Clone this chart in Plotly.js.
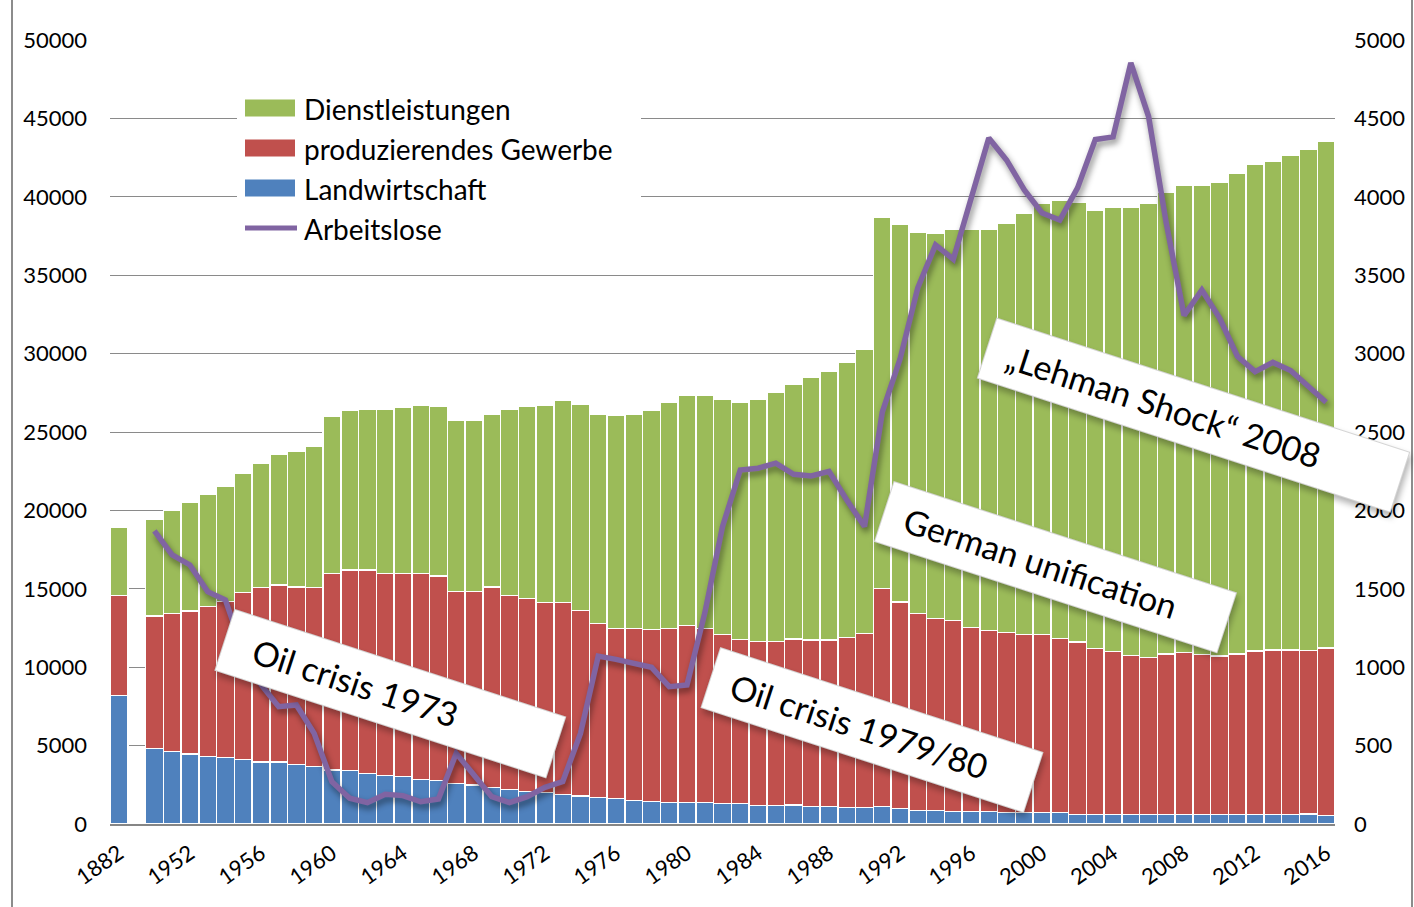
<!DOCTYPE html>
<html>
<head>
<meta charset="utf-8">
<script src="https://cdn.plot.ly/plotly-3.0.1.min.js"></script>
<style>
  html, body { margin:0; padding:0; background:#fff; }
  #chart { width:1414px; height:907px; }
  .scatterlayer .js-line { filter: drop-shadow(2px 4px 3px rgba(0,0,0,0.45)); }
  g.annotation rect.bg { filter: drop-shadow(3px 4px 3px rgba(0,0,0,0.30)); }
</style>
</head>
<body>
<div id="chart"></div>
<script>
// ---- Data (thousands of persons) ----
const categories = ['1882',' ',
  '1950','1951','1952','1953','1954','1955','1956','1957','1958','1959',
  '1960','1961','1962','1963','1964','1965','1966','1967','1968','1969',
  '1970','1971','1972','1973','1974','1975','1976','1977','1978','1979',
  '1980','1981','1982','1983','1984','1985','1986','1987','1988','1989',
  '1990','1991','1992','1993','1994','1995','1996','1997','1998','1999',
  '2000','2001','2002','2003','2004','2005','2006','2007','2008','2009',
  '2010','2011','2012','2013','2014','2015','2016'];

const tickLabels = ['1882','1952','1956','1960','1964','1968','1972','1976','1980',
  '1984','1988','1992','1996','2000','2004','2008','2012','2016'];

const landwirtschaft = [8180, null,
  4800,4610,4480,4310,4250,4120,3970,3970,3810,3680,
  3460,3400,3230,3080,3020,2830,2760,2590,2490,2340,
  2210,2060,2000,1890,1790,1700,1620,1490,1430,1360,
  1360,1360,1300,1300,1170,1170,1200,1110,1110,1040,
  1040,1110,980,850,850,790,790,790,720,720,
  720,720,600,600,600,600,600,600,600,600,
  600,600,600,600,600,640,530];

const produzierendesGewerbe = [6380, null,
  8450,8810,9120,9570,9930,10630,11100,11280,11320,11390,
  12510,12810,12980,12890,12950,13140,13070,12250,12350,12760,
  12370,12330,12130,12240,11840,11080,10860,10990,10980,11120,
  11310,11120,10800,10460,10460,10460,10600,10620,10620,10850,
  11110,13910,13190,12590,12270,12190,11750,11540,11500,11370,
  11370,11120,11000,10600,10400,10160,10030,10240,10350,10200,
  10110,10250,10430,10510,10510,10430,10680];

const dienstleistungen = [4340, null,
  6200,6610,6890,7120,7390,7640,7960,8350,8660,9040,
  10050,10190,10260,10500,10630,10750,10830,10930,10930,11050,
  11890,12270,12590,12910,13160,13370,13610,13670,14000,14440,
  14690,14880,15010,15160,15480,15920,16270,16740,17140,17550,
  18150,23690,24090,24330,24570,24920,25360,25570,26120,26870,
  27510,27960,28060,27970,28330,28570,28960,29470,29810,29960,
  30250,30630,31030,31150,31570,31940,32350];

const arbeitslose = [null, null,
  1869,1716,1652,1482,1429,1100,890,748,759,578,
  270,164,136,189,181,142,159,451,312,174,
  136,174,234,270,578,1071,1050,1025,999,876,
  887,1344,1896,2258,2269,2301,2230,2220,2249,2066,
  1897,2626,2965,3420,3693,3602,3980,4375,4235,4044,
  3897,3852,4057,4366,4382,4854,4512,3829,3243,3406,
  3227,2983,2885,2944,2892,2787,2690];

const seriesNames = ['Dienstleistungen','produzierendes Gewerbe','Landwirtschaft','Arbeitslose'];
const colors = {green:'#9BBB59', red:'#C0504D', blue:'#4F81BD', purple:'#8064A2'};

const barLine = {color:'#ffffff', width:1.5};
const traces = [
  {type:'bar', name:seriesNames[2], x:categories, y:landwirtschaft,
   marker:{color:colors.blue, line:barLine}, hoverinfo:'x+y+name'},
  {type:'bar', name:seriesNames[1], x:categories, y:produzierendesGewerbe,
   marker:{color:colors.red, line:barLine}, hoverinfo:'x+y+name'},
  {type:'bar', name:seriesNames[0], x:categories, y:dienstleistungen,
   marker:{color:colors.green, line:barLine}, hoverinfo:'x+y+name'},
  {type:'scatter', mode:'lines', name:seriesNames[3], x:categories, y:arbeitslose,
   yaxis:'y2', connectgaps:false,
   line:{color:colors.purple, width:5.5, shape:'linear'}}
];

// ---- pixel helpers for layout placement (plot area 110..1335 x 40..824) ----
const PL=110, PR=1335, PT=40, PB=824;
const px = v => (v-PL)/(PR-PL);
const py = v => (PB-v)/(PB-PT);

const FONT = 'Lato, "Open Sans", sans-serif';

// manual legend
const legendItems = [
  {name:seriesNames[0], color:colors.green, y:108, kind:'rect'},
  {name:seriesNames[1], color:colors.red, y:148, kind:'rect'},
  {name:seriesNames[2], color:colors.blue, y:188, kind:'rect'},
  {name:seriesNames[3], color:colors.purple, y:228, kind:'line'}
];

const shapes = [
  // chart frame (left / right)
  {type:'line', xref:'paper', yref:'paper', x0:px(12), x1:px(12), y0:py(-5), y1:py(912),
   line:{color:'#8c8c8c', width:2}},
  {type:'line', xref:'paper', yref:'paper', x0:px(1412), x1:px(1412), y0:py(-5), y1:py(912),
   line:{color:'#8c8c8c', width:2}},
  // legend background
  {type:'rect', xref:'paper', yref:'paper', layer:'above',
   x0:px(237), x1:px(641), y0:py(88), y1:py(246), fillcolor:'#ffffff', line:{width:0}}
];
const annotations = [];
legendItems.forEach(it => {
  if (it.kind === 'rect') {
    shapes.push({type:'rect', xref:'paper', yref:'paper', layer:'above',
      x0:px(245), x1:px(295), y0:py(it.y-8.5), y1:py(it.y+8.5),
      fillcolor:it.color, line:{width:0}});
  } else {
    shapes.push({type:'line', xref:'paper', yref:'paper', layer:'above',
      x0:px(245), x1:px(297), y0:py(it.y), y1:py(it.y),
      line:{color:it.color, width:5}});
  }
  annotations.push({xref:'paper', yref:'paper', x:px(302), y:py(it.y+1),
    xanchor:'left', yanchor:'middle', showarrow:false, text:it.name,
    font:{family:FONT, size:28, color:'#000'}});
});

// event labels (rotated boxes)
const NB = '\u00a0';
const events = [
  {text:NB+NB+NB+'Oil crisis 1973', cx:390, cy:693, w:349, h:65},
  {text:NB+NB+'Oil crisis 1979/80', cx:872, cy:730, w:340, h:64},
  {text:NB+NB+'German unification', cx:1055, cy:567, w:361, h:64},
  {text:NB+NB+'\u201ELehman Shock\u201C 2008', cx:1193, cy:415, w:435, h:64}
];
events.forEach(e => {
  annotations.push({xref:'paper', yref:'paper', x:px(e.cx), y:py(e.cy),
    xanchor:'center', yanchor:'middle', showarrow:false, text:e.text,
    textangle:18, width:e.w-10, height:e.h-10, align:'left', valign:'middle',
    bgcolor:'#ffffff', bordercolor:'#d4d4d4', borderwidth:1, borderpad:4,
    font:{family:FONT, size:34, color:'#000'}});
});

const layout = {
  width:1414, height:907,
  margin:{l:PL, r:1414-PR, t:PT, b:907-PB, pad:0},
  paper_bgcolor:'#ffffff', plot_bgcolor:'#ffffff',
  barmode:'stack', bargap:0,
  showlegend:false,
  font:{family:FONT, color:'#000'},
  xaxis:{type:'category', categoryorder:'array', categoryarray:categories,
    tickmode:'array', tickvals:tickLabels, ticktext:tickLabels,
    tickangle:-35, tickfont:{family:FONT, size:22, color:'#000'},
    showgrid:false, showline:true, linecolor:'#868686', linewidth:2,
    ticks:'', zeroline:false, automargin:false, ticklabelstandoff:6,
    range:[-0.5, categories.length-0.5]},
  yaxis:{range:[0,50000], dtick:5000, tick0:0, tickformat:'d', exponentformat:'none',
    showgrid:true, gridcolor:'#8a8a8a', gridwidth:1, zeroline:false, showline:false,
    ticks:'', tickfont:{family:FONT, size:22, color:'#000'}, automargin:false,
    ticklabelstandoff:22},
  yaxis2:{range:[0,5000], dtick:500, tick0:0, overlaying:'y', side:'right',
    tickformat:'d', exponentformat:'none', showgrid:false, zeroline:false, showline:false,
    ticks:'', tickfont:{family:FONT, size:22, color:'#000'}, automargin:false,
    ticklabelstandoff:18},
  shapes:shapes,
  annotations:annotations
};

Plotly.newPlot('chart', traces, layout, {displayModeBar:false, staticPlot:true});
</script>
</body>
</html>
